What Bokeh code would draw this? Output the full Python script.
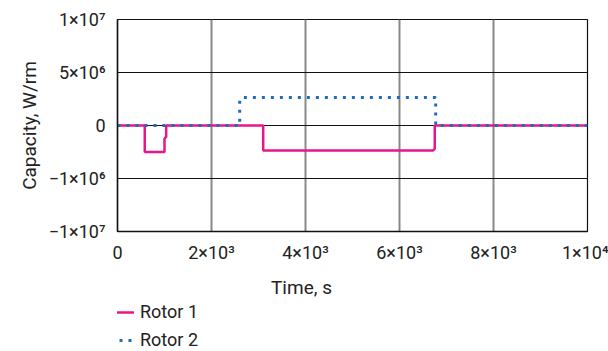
from bokeh.plotting import figure
from bokeh.layouts import column
from bokeh.models import Range1d, FixedTicker, Legend, LegendItem, Label
from bokeh.embed import file_html
from bokeh.resources import INLINE

# data (time in s, capacity in W/rm)
t_rotor1 = [0, 580, 580, 1000, 1000, 1036, 1036, 3100, 3100, 6710, 6750, 6750, 10000]
v_rotor1 = [0, 0, -2.5e6, -2.5e6, -1.25e6, -1.05e6, 0, 0, -2.37e6, -2.37e6, -2.2e6, 0, 0]
t_rotor2 = [0, 2600, 2600, 2650, 6770, 6770, 10000]
v_rotor2 = [0, 0, 2.4e6, 2.65e6, 2.65e6, 0, 0]

x_ticks = [0, 2000, 4000, 6000, 8000, 10000]
x_labels = ["0", "2×10³", "4×10³", "6×10³", "8×10³", "1×10⁴"]
y_ticks = [-1e7, -5e6, 0, 5e6, 1e7]
y_labels = ["−1×10⁷", "−1×10⁶", "0", "5×10⁶", "1×10⁷"]
series_names = ["Rotor 1", "Rotor 2"]
series_colors = ["#e8168b", "#1f6db5"]

FONT = "Roboto"
TXT = "#222222"

p = figure(width=608, height=265, output_backend="svg", toolbar_location=None,
           x_range=Range1d(0, 10000), y_range=Range1d(-1e7, 1e7),
           min_border_left=117, min_border_right=21, min_border_top=19, min_border_bottom=32)
p.background_fill_color = "white"
p.border_fill_color = "white"
p.outline_line_color = "#111111"
p.outline_line_width = 1.2

p.xaxis.ticker = FixedTicker(ticks=x_ticks)
p.xaxis.major_label_overrides = {float(k): v for k, v in zip(x_ticks, x_labels)}
p.yaxis.ticker = FixedTicker(ticks=y_ticks)
p.yaxis.major_label_overrides = {float(k): v for k, v in zip(y_ticks, y_labels)}
for ax in (p.xaxis, p.yaxis):
    ax.major_tick_line_color = None
    ax.minor_tick_line_color = None
    ax.axis_line_color = "#111111"
    ax.axis_line_width = 1.5
    ax.major_label_text_font = FONT
    ax.major_label_text_font_size = "18px"
    ax.major_label_text_color = TXT
    ax.axis_label_text_font = FONT
    ax.axis_label_text_font_style = "normal"
    ax.axis_label_text_font_size = "19px"
    ax.axis_label_text_color = TXT
p.yaxis.axis_label = "Capacity, W/rm"
p.yaxis.major_label_standoff = 6
p.xaxis.major_label_standoff = 4

p.xgrid.grid_line_color = "#888888"
p.xgrid.grid_line_width = 2
p.ygrid.grid_line_color = "#111111"
p.ygrid.grid_line_width = 1

p.line(t_rotor1, v_rotor1, line_color=series_colors[0], line_width=2.5)
p.line(t_rotor2, v_rotor2, line_color=series_colors[1], line_width=3, line_dash="3 6")

# lower strip: x-axis title and legend (its frame is aligned with the main frame)
p2 = figure(width=608, height=86, output_backend="svg", toolbar_location=None,
            x_range=Range1d(0, 10000), y_range=Range1d(5e7, 6e7),
            x_axis_type=None, y_axis_type=None, min_border=0)
p2.outline_line_color = None
p2.background_fill_color = "white"
p2.border_fill_color = "white"

p2.add_layout(Label(x=184, y=64, x_units="screen", y_units="screen", text="Time, s",
                    text_align="center", text_baseline="middle", text_font=FONT,
                    text_font_size="19px", text_color=TXT))

# legend keys: same series, drawn outside this strip's range so only the legend shows
k1 = p2.line(t_rotor1, v_rotor1, line_color=series_colors[0], line_width=2.5)
k2 = p2.line(t_rotor2, v_rotor2, line_color=series_colors[1], line_width=3, line_dash="3 6")
legend = Legend(items=[LegendItem(label=series_names[0], renderers=[k1]),
                       LegendItem(label=series_names[1], renderers=[k2])],
                location=(-7, 1), orientation="vertical",
                glyph_width=24, glyph_height=20, label_height=20, spacing=7,
                label_standoff=6, padding=0, margin=0,
                border_line_color=None, background_fill_alpha=0,
                label_text_font=FONT, label_text_font_size="18px",
                label_text_color=TXT)
p2.add_layout(legend, "center")

layout = column(p, p2, spacing=0)
open("out.html", "w").write(file_html(layout, INLINE))
